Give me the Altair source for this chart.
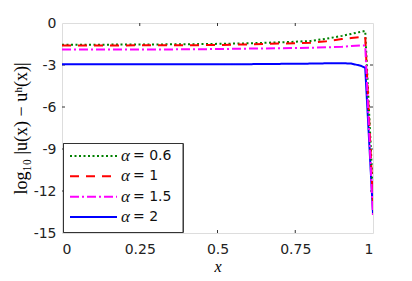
import altair as alt
import pandas as pd

x_vals = [0.0, 0.1, 0.2, 0.3, 0.4, 0.5, 0.6, 0.7, 0.75, 0.8, 0.85, 0.9, 0.93, 0.96, 0.975, 1.0]
err_06 = [-1.55, -1.55, -1.54, -1.53, -1.52, -1.49, -1.45, -1.38, -1.34, -1.28, -1.12, -0.92, -0.78, -0.63, -0.57, -12.2]
err_1 = [-1.60, -1.60, -1.60, -1.59, -1.59, -1.57, -1.53, -1.47, -1.44, -1.41, -1.30, -1.15, -1.07, -1.00, -0.98, -12.8]
err_15 = [-1.90, -1.90, -1.90, -1.89, -1.88, -1.86, -1.83, -1.80, -1.78, -1.77, -1.74, -1.70, -1.65, -1.60, -1.60, -13.8]
err_2 = [-2.95, -2.95, -2.95, -2.95, -2.95, -2.95, -2.94, -2.92, -2.91, -2.90, -2.88, -2.87, -2.90, -3.05, -3.20, -13.6]

series_names = ["0.6", "1", "1.5", "2"]
series_colors = ["#008000", "#ff0000", "#ff00ff", "#0000ff"]
series_dashes = [[2, 2.5], [9, 7], [9, 3, 2, 3], [1, 0]]
draw_order = [3, 0, 1, 2]  # blue drawn first, underneath

x_ticks = [0, 0.25, 0.5, 0.75, 1]
y_ticks = [0, -3, -6, -9, -12, -15]
x_inner = [0.25, 0.5, 0.75]
y_inner = [-3, -6, -9, -12]

all_err = [err_06, err_1, err_15, err_2]
rows = []
for i in draw_order:
    for xv, yv in zip(x_vals, all_err[i]):
        rows.append({"x": xv, "y": yv, "alpha": series_names[i]})
df = pd.DataFrame(rows)
leg_df = pd.DataFrame({"alpha": series_names, "eq": ["= " + s for s in series_names],
                       "sym": ["α"] * len(series_names)})

W, H = 311, 210
AX = "#333333"

xscale = alt.Scale(domain=[0, 1], nice=False)
yscale = alt.Scale(domain=[-15, 0], nice=False)
cscale = alt.Scale(domain=series_names, range=series_colors)
dscale = alt.Scale(domain=series_names, range=series_dashes)
legy = alt.Scale(type="point", domain=series_names, range=[133, 194], padding=0)

lines = alt.Chart(df).mark_line(strokeWidth=2, clip=True).encode(
    x=alt.X("x:Q", scale=xscale,
            axis=alt.Axis(values=x_ticks, labelExpr="'' + datum.value", title="x",
                          titleFont="Liberation Serif", titleFontStyle="italic",
                          titleFontWeight="normal", titleFontSize=16,
                          titleBaseline="alphabetic", titleY=38,
                          labelFont="DejaVu Sans", labelFontSize=14, labelColor="#222222",
                          labelPadding=9, tickSize=0, domain=False, grid=False)),
    y=alt.Y("y:Q", scale=yscale,
            axis=alt.Axis(values=y_ticks, labelExpr="'' + datum.value",
                          title="log₁₀ |u(x) − uʰ(x)|",
                          titleFont="Liberation Serif", titleFontWeight="normal",
                          titleFontSize=18, titlePadding=3,
                          labelFont="DejaVu Sans", labelFontSize=14, labelColor="#222222",
                          labelPadding=6, tickSize=0, domain=False, grid=False)),
    color=alt.Color("alpha:N", scale=cscale, legend=None),
    strokeDash=alt.StrokeDash("alpha:N", scale=dscale, legend=None),
    detail="alpha:N",
    order=alt.Order("x:Q"),
)

tick_df_x = pd.DataFrame({"t": x_inner})
tick_df_y = pd.DataFrame({"t": y_inner})

bx = alt.Chart(tick_df_x).mark_rule(color=AX, strokeWidth=1).encode(
    x=alt.X("t:Q", scale=xscale), y=alt.value(H), y2=alt.value(H - 3))
tx = alt.Chart(tick_df_x).mark_rule(color=AX, strokeWidth=1).encode(
    x=alt.X("t:Q", scale=xscale), y=alt.value(0), y2=alt.value(3))
ly = alt.Chart(tick_df_y).mark_rule(color=AX, strokeWidth=1).encode(
    y=alt.Y("t:Q", scale=yscale), x=alt.value(0), x2=alt.value(3))
ry = alt.Chart(tick_df_y).mark_rule(color=AX, strokeWidth=1).encode(
    y=alt.Y("t:Q", scale=yscale), x=alt.value(W), x2=alt.value(W - 3))

base_main = alt.layer(bx, tx, ly, ry, lines)

leg_box = alt.Chart(leg_df).mark_rect(fill="white", stroke=AX, strokeWidth=1).encode(
    x=alt.value(1.5), x2=alt.value(121), y=alt.value(120.5), y2=alt.value(209.5))
leg_sym = alt.Chart(leg_df).mark_rule(strokeWidth=2).encode(
    x=alt.value(8), x2=alt.value(55),
    y=alt.Y("alpha:N", scale=legy, axis=None),
    color=alt.Color("alpha:N", scale=cscale, legend=None),
    strokeDash=alt.StrokeDash("alpha:N", scale=dscale, legend=None))
leg_a = alt.Chart(leg_df).mark_text(align="left", baseline="middle", font="Liberation Serif",
                                    fontStyle="italic", fontSize=17, color="#111111").encode(
    x=alt.value(59), y=alt.Y("alpha:N", scale=legy, axis=None), text="sym:N")
leg_t = alt.Chart(leg_df).mark_text(align="left", baseline="middle", font="DejaVu Sans",
                                    fontSize=14, color="#111111").encode(
    x=alt.value(71), y=alt.Y("alpha:N", scale=legy, axis=None), text="eq:N")
legend = alt.layer(leg_box, leg_sym, leg_a, leg_t)

chart = alt.layer(base_main, legend).resolve_scale(y="independent").properties(
    width=W, height=H,
    autosize=alt.AutoSizeParams(type="none"),
    padding={"left": 54, "top": 15, "right": 31, "bottom": 40},
).configure_view(stroke=AX, strokeWidth=1).configure(background="white")

chart.save("out.html", embed_options={"renderer": "svg", "actions": False})
